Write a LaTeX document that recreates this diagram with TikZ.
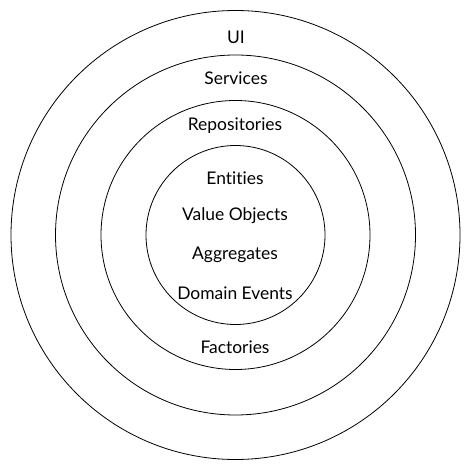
\documentclass[tikz,border=0pt]{standalone}
\usepackage{fontspec}
\setmainfont{Lato}[Ligatures=NoCommon]
\begin{document}
\begin{tikzpicture}[x=1bp,y=-1bp,
  ring/.style={draw=black,line width=0.8bp},
  lbl/.style={font=\fontsize{17.5}{20}\selectfont,inner sep=0pt,anchor=center}]
\useasboundingbox (0,0) rectangle (471,471);
\coordinate (c) at (235.5,235);
\draw[ring] (c) circle[radius=224.5];
\draw[ring] (c) circle[radius=180];
\draw[ring] (c) circle[radius=134.5];
\draw[ring] (c) circle[radius=89.5];
\node[lbl] (ui) at (236,37) {UI};
\node[lbl] (services) at (236,78) {Services};
\node[lbl] (repos) at (235,126) {Repositories};
\node[lbl] (entities) at (235,178) {Entities};
\node[lbl] (vo) at (235,216) {Value Objects};
\node[lbl] (agg) at (235,255) {Aggregates};
\node[lbl] (de) at (235,293) {Domain Events};
\node[lbl] (fac) at (235,347) {Factories};
\end{tikzpicture}
\end{document}
